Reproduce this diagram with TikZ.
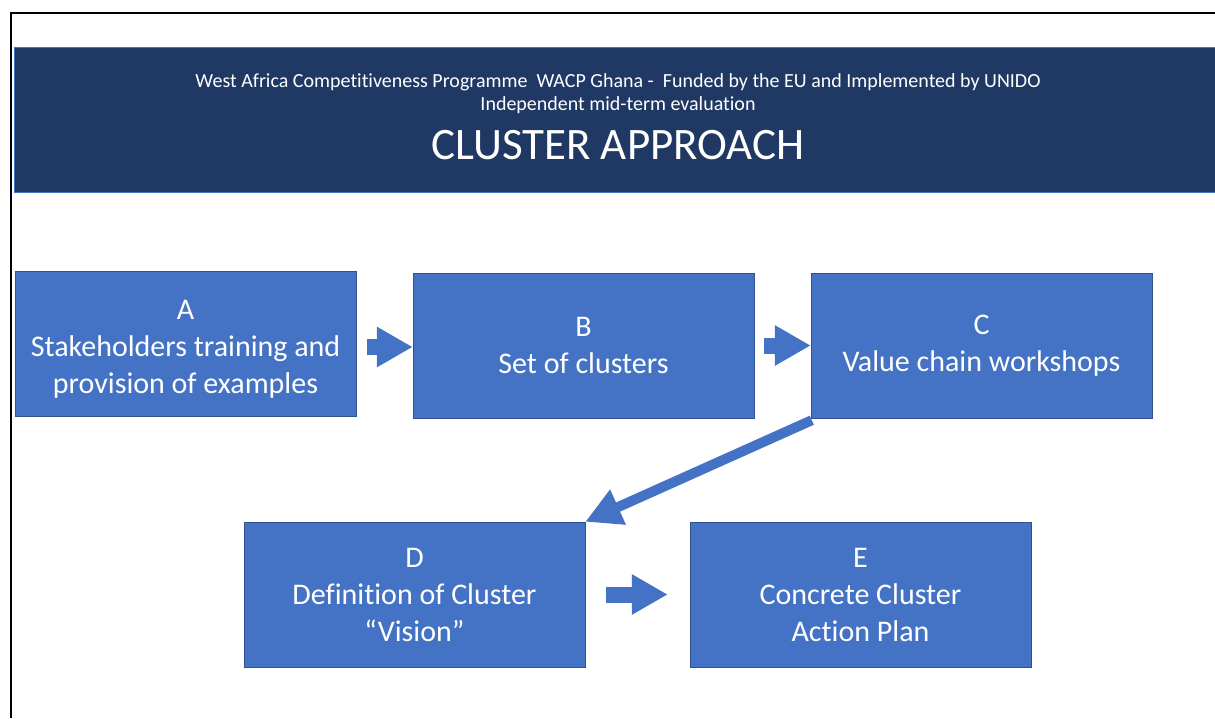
\documentclass[tikz,border=0pt]{standalone}
\usepackage{fontspec}
\setmainfont{Carlito}[Ligatures={TeX,NoCommon}]
\usetikzlibrary{arrows.meta,calc,positioning}
\definecolor{boxblue}{HTML}{4472C4}
\definecolor{boxedge}{HTML}{2F528F}
\definecolor{bannerblue}{HTML}{203864}
\tikzset{
  stage/.style={draw=boxedge, fill=boxblue, text=white, minimum width=341pt,
    minimum height=145pt, align=center, inner sep=0pt,
    font=\fontsize{30}{37}\selectfont},
  blockarrow/.style={boxblue, line width=16pt,
    -{Triangle[length=36pt,width=38pt]}},
  headtext/.style={text=white, inner sep=0pt}
}

\begin{document}
\begin{tikzpicture}[x=1pt,y=-1pt]
\useasboundingbox (0,0) rectangle (1215,718);

% Draw frame.
\draw[line width=2pt] (10.5,718) -- (10.5,13) -- (1215,13);

% Draw banner.
\fill[bannerblue] (14,47) rectangle (1215,192);
\draw[boxblue, line width=0.8pt] (1215,47) -- (14,47) -- (14,192) -- (1215,192);
\node[headtext, font=\fontsize{20}{24}\selectfont] (head) at (618,82)
  {West Africa Competitiveness Programme\ \ WACP Ghana -\ \ Funded by the EU and Implemented by UNIDO};
\node[headtext, font=\fontsize{20}{24}\selectfont] (sub) at (618,105)
  {Independent mid-term evaluation};
\node[headtext, font=\fontsize{45}{50}\selectfont] (title) at (618,145)
  {CLUSTER APPROACH};

% Draw stages.
\node[stage] (A) at (185.5,344) {\\[-8pt]A\\Stakeholders training and\\provision of examples};
\node[stage] (B) at (583.5,345.5) {B\\Set of clusters};
\node[stage] (C) at (981.5,345.5) {C\\Value chain workshops};
\node[stage] (D) at (414.5,594.5) {D\\Definition of Cluster\\``Vision''};
\node[stage] (E) at (860.5,594.5) {E\\Concrete Cluster\\Action Plan};

% Draw arrows between stages.
\draw[blockarrow, shorten <=11pt] ($(A.east)+(0,3)$) -- ($(A.east -| B.west)+(0,3)$);
\draw[blockarrow, shorten <=10pt] (B.east) -- (C.west);
\draw[blockarrow, shorten <=21pt, shorten >=22pt] (D.east) -- (E.west);
\draw[boxblue, line width=10pt, -{Triangle[length=36pt,width=36pt]}]
  ($(C.south west)+(1,2)$) -- (D.north east);
\end{tikzpicture}
\end{document}
